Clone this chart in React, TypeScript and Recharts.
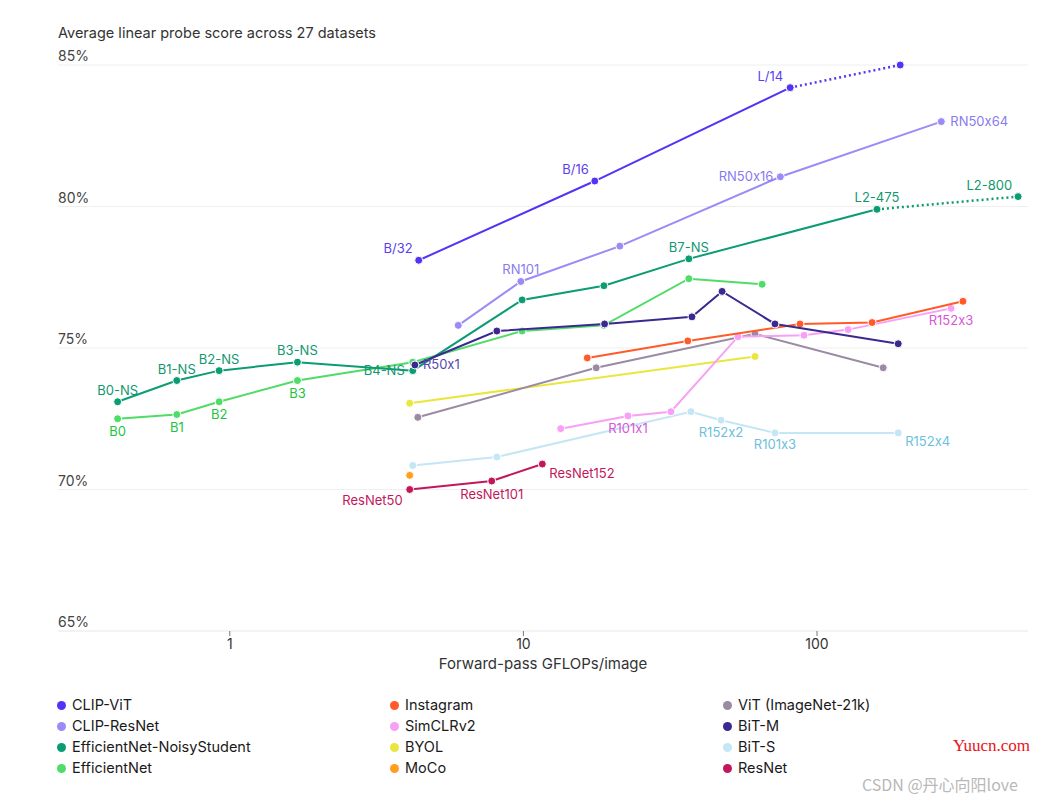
import React from "react";
import { ScatterChart, Scatter, XAxis, YAxis, CartesianGrid, Label } from "recharts";

const FONT = "Inter, 'Noto Sans', 'DejaVu Sans', sans-serif";
const NO_CALT: React.CSSProperties = { fontFeatureSettings: '"calt" 0' };

// ---------- data (GFLOPs per image, average linear probe score %, point labels) ----------
const clipVitGflops = [4.4, 17.5, 81, 192];
const clipVitScore = [78.1, 80.9, 84.2, 85.0];
const clipVitLabels = ["B/32", "B/16", "L/14", ""];

const clipResGflops = [6.0, 9.8, 21.3, 75, 265];
const clipResScore = [75.8, 77.35, 78.6, 81.05, 83.0];
const clipResLabels = ["", "RN101", "", "RN50x16", "RN50x64"];

const effNsGflops = [0.415, 0.66, 0.92, 1.7, 4.2, 9.9, 18.8, 36.6, 160, 484];
const effNsScore = [73.1, 73.85, 74.2, 74.5, 74.2, 76.7, 77.2, 78.15, 79.9, 80.35];
const effNsLabels = ["B0-NS", "B1-NS", "B2-NS", "B3-NS", "B4-NS", "", "", "B7-NS", "L2-475", "L2-800"];

const effGflops = [0.415, 0.66, 0.92, 1.7, 4.2, 9.9, 18.8, 36.6, 65];
const effScore = [72.5, 72.65, 73.1, 73.85, 74.5, 75.6, 75.8, 77.45, 77.25];
const effLabels = ["B0", "B1", "B2", "B3", "", "", "", "", ""];

const instaGflops = [16.5, 36.3, 87.5, 154, 314];
const instaScore = [74.65, 75.25, 75.85, 75.9, 76.65];
const instaLabels = ["", "", "", "", ""];

const simclrGflops = [13.4, 22.7, 31.8, 53.8, 90.3, 127.6, 286];
const simclrScore = [72.15, 72.6, 72.75, 75.4, 75.45, 75.65, 76.4];
const simclrLabels = ["", "R101x1", "", "", "", "", "R152x3"];

const byolGflops = [4.1, 61.5];
const byolScore = [73.05, 74.7];
const byolLabels = ["", ""];

const vitGflops = [4.37, 17.7, 61.5, 168];
const vitScore = [72.55, 74.3, 75.5, 74.3];
const vitLabels = ["", "", "", ""];

const bitmGflops = [4.27, 8.12, 18.9, 37.5, 47.5, 71.9, 189];
const bitmScore = [74.4, 75.6, 75.85, 76.1, 77.0, 75.85, 75.15];
const bitmLabels = ["R50x1", "", "", "", "", "", ""];

const bitsGflops = [4.2, 8.12, 37.2, 47.1, 71.9, 189];
const bitsScore = [70.85, 71.15, 72.75, 72.45, 72.0, 72.0];
const bitsLabels = ["", "", "", "R152x2", "R101x3", "R152x4"];

const mocoGflops = [4.1];
const mocoScore = [70.5];
const mocoLabels = [""];

const resnetGflops = [4.1, 7.8, 11.6];
const resnetScore = [70.0, 70.3, 70.9];
const resnetLabels = ["ResNet50", "ResNet101", "ResNet152"];

const yTicks = [65, 70, 75, 80, 85];
const xTicks = [1, 10, 100];

// ---------- styling ----------
const labelOffsets: Record<string, [number, number, "start" | "middle" | "end"]> = {
  "B/32": [-6, -7, "end"],
  "B/16": [-6, -7, "end"],
  "L/14": [-7, -7, "end"],
  RN101: [0, -7, "middle"],
  RN50x16: [-7, 4, "end"],
  RN50x64: [9, 4, "start"],
  "B0-NS": [0, -7, "middle"],
  "B1-NS": [0, -7, "middle"],
  "B2-NS": [0, -7, "middle"],
  "B3-NS": [0, -7, "middle"],
  "B4-NS": [-8, 4, "end"],
  "B7-NS": [0, -7, "middle"],
  "L2-475": [0, -7, "middle"],
  "L2-800": [-6, -7, "end"],
  B0: [0, 17, "middle"],
  B1: [0, 17, "middle"],
  B2: [0, 17, "middle"],
  B3: [0, 17, "middle"],
  R50x1: [8, 4, "start"],
  R101x1: [0, 17, "middle"],
  R152x3: [0, 17, "middle"],
  R152x2: [0, 17, "middle"],
  R101x3: [0, 16, "middle"],
  R152x4: [7, 13, "start"],
  ResNet50: [-7, 15, "end"],
  ResNet101: [0, 18, "middle"],
  ResNet152: [7, 14, "start"],
};

type Pt = { x: number; y: number; label: string };
const build = (xs: number[], ys: number[], ls: string[]): Pt[] =>
  xs.map((x, i) => ({ x, y: ys[i], label: ls[i] || "" }));

type Series = {
  name: string;
  color: string;
  labelColor: string;
  pts: Pt[];
  dottedTail?: boolean;
};

const series: Series[] = [
  { name: "CLIP-ViT", color: "#5533f6", labelColor: "#5a3ff0", pts: build(clipVitGflops, clipVitScore, clipVitLabels), dottedTail: true },
  { name: "CLIP-ResNet", color: "#9b8bf6", labelColor: "#8a7bef", pts: build(clipResGflops, clipResScore, clipResLabels) },
  { name: "EfficientNet-NoisyStudent", color: "#0c9c73", labelColor: "#12976f", pts: build(effNsGflops, effNsScore, effNsLabels), dottedTail: true },
  { name: "EfficientNet", color: "#4fdc68", labelColor: "#22c43f", pts: build(effGflops, effScore, effLabels) },
  { name: "Instagram", color: "#ff5a28", labelColor: "#ff5a28", pts: build(instaGflops, instaScore, instaLabels) },
  { name: "SimCLRv2", color: "#f7a0f5", labelColor: "#d858d8", pts: build(simclrGflops, simclrScore, simclrLabels) },
  { name: "BYOL", color: "#e9e63e", labelColor: "#c9c62a", pts: build(byolGflops, byolScore, byolLabels) },
  { name: "MoCo", color: "#ff9f1c", labelColor: "#ff9f1c", pts: build(mocoGflops, mocoScore, mocoLabels) },
  { name: "ViT (ImageNet-21k)", color: "#9b8aa3", labelColor: "#9b8aa3", pts: build(vitGflops, vitScore, vitLabels) },
  { name: "BiT-M", color: "#3b2991", labelColor: "#5a48b0", pts: build(bitmGflops, bitmScore, bitmLabels) },
  { name: "BiT-S", color: "#c4e6f5", labelColor: "#6dbfe0", pts: build(bitsGflops, bitsScore, bitsLabels) },
  { name: "ResNet", color: "#c2185b", labelColor: "#c2185b", pts: build(resnetGflops, resnetScore, resnetLabels) },
];

const drawOrder = ["BiT-S", "MoCo", "BYOL", "ViT (ImageNet-21k)", "SimCLRv2", "Instagram", "EfficientNet", "EfficientNet-NoisyStudent", "CLIP-ResNet", "CLIP-ViT", "ResNet", "BiT-M"];

const makeShape = (color: string, labelColor: string) => (props: any) => {
  const { cx, cy, payload } = props;
  if (cx == null || cy == null) return <g />;
  const lab: string = payload?.label || "";
  const off = lab ? labelOffsets[lab] : undefined;
  return (
    <g>
      <circle cx={cx} cy={cy} r={4} fill={color} stroke="#ffffff" strokeWidth={1} />
      {off ? (
        <text x={cx + off[0]} y={cy + off[1]} textAnchor={off[2]} fontSize={13} fill={labelColor} fontFamily={FONT} style={NO_CALT}>
          {lab}
        </text>
      ) : null}
    </g>
  );
};

const renderYTick = (props: any) => (
  <text x={58} y={props.y - 4} fontSize={14} fill="#444" fontFamily={FONT} textAnchor="start" style={NO_CALT}>
    {`${props.payload.value}%`}
  </text>
);

const renderXTick = (props: any) => (
  <text x={props.x} y={props.y + 11} fontSize={14} fill="#333" fontFamily={FONT} textAnchor="middle">
    {props.payload.value}
  </text>
);

const legendCols = [
  ["CLIP-ViT", "CLIP-ResNet", "EfficientNet-NoisyStudent", "EfficientNet"],
  ["Instagram", "SimCLRv2", "BYOL", "MoCo"],
  ["ViT (ImageNet-21k)", "BiT-M", "BiT-S", "ResNet"],
];

export default function App() {
  const ordered = drawOrder.map((n) => series.find((s) => s.name === n)!);
  return (
    <div style={{ position: "absolute", left: 0, top: 0, width: 1064, height: 801, background: "#fff", fontFamily: FONT }}>
      <div style={{ position: "absolute", left: 58, top: 24, fontSize: 14.5, color: "#333", lineHeight: "18px" }}>
        Average linear probe score across 27 datasets
      </div>
      <ScatterChart width={1064} height={801} margin={{ top: 65, right: 36, left: 52, bottom: 130 }}>
        <CartesianGrid horizontal vertical={false} stroke="#efefef" />
        <XAxis
          type="number"
          dataKey="x"
          scale="log"
          domain={[0.26, 523]}
          allowDataOverflow
          ticks={xTicks}
          tick={renderXTick}
          tickSize={5}
          tickMargin={2}
          tickLine={{ stroke: "#777" }}
          axisLine={{ stroke: "#efefef" }}
          height={40}
        >
          <Label value="Forward-pass GFLOPs/image" position="insideBottom" offset={2} fontSize={15} fill="#333" fontFamily={FONT} />
        </XAxis>
        <YAxis
          type="number"
          dataKey="y"
          domain={[65, 85]}
          ticks={yTicks}
          tick={renderYTick}
          width={6}
          axisLine={false}
          tickLine={false}
        />
        {ordered.map((s) => {
          const n = s.pts.length;
          const main = s.dottedTail ? s.pts.slice(0, n - 1) : s.pts;
          const els = [
            <Scatter
              key={s.name}
              name={s.name}
              data={main}
              fill={s.color}
              line={main.length > 1 ? { stroke: s.color, strokeWidth: 2 } : false}
              shape={makeShape(s.color, s.labelColor)}
              isAnimationActive={false}
            />,
          ];
          if (s.dottedTail) {
            const tail = [{ ...s.pts[n - 2], label: "" }, s.pts[n - 1]];
            els.push(
              <Scatter
                key={s.name + "-tail"}
                name={s.name + " (extended)"}
                data={tail}
                fill={s.color}
                line={{ stroke: s.color, strokeWidth: 2.5, strokeDasharray: "2 3" }}
                shape={makeShape(s.color, s.labelColor)}
                legendType="none"
                isAnimationActive={false}
              />
            );
          }
          return els;
        })}
      </ScatterChart>
      {legendCols.map((col, ci) =>
        col.map((name, ri) => {
          const s = series.find((q) => q.name === name)!;
          return (
            <div
              key={name}
              style={{
                position: "absolute",
                left: 57 + ci * 333,
                top: 696 + ri * 21,
                display: "flex",
                alignItems: "center",
                fontSize: 14.5,
                color: "#1a1a1a",
                lineHeight: "18px",
                whiteSpace: "nowrap",
              }}
            >
              <span style={{ display: "inline-block", width: 9, height: 9, borderRadius: "50%", background: s.color, marginRight: 6 }} />
              {name}
            </div>
          );
        })
      )}
      <div style={{ position: "absolute", left: 953, top: 736, fontSize: 17, color: "#e8141b", fontFamily: "'Liberation Serif', serif" }}>
        Yuucn.com
      </div>
      <div style={{ position: "absolute", left: 862, top: 772, fontSize: 16, color: "#b8b8b8", fontFamily: "'Noto Sans CJK SC', 'Noto Sans', sans-serif" }}>
        CSDN @丹心向阳love
      </div>
    </div>
  );
}
